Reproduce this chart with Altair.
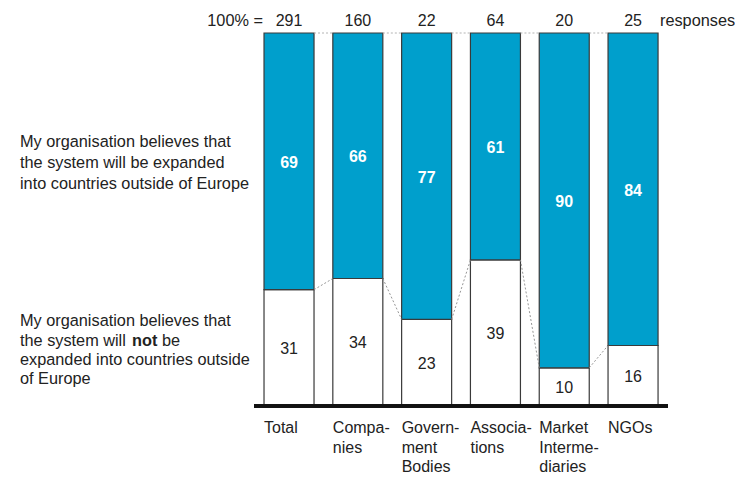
import altair as alt
import pandas as pd

# ---- data ----
categories = ["Total", "Companies", "Government Bodies", "Associations",
              "Market Intermediaries", "NGOs"]
axis_labels = ["Total", "Compa-|nies", "Govern-|ment|Bodies", "Associa-|tions",
               "Market|Interme-|diaries", "NGOs"]
yes_values = [69, 66, 77, 61, 90, 84]   # expanded outside Europe (blue)
no_values = [31, 34, 23, 39, 10, 16]    # not expanded (white)
responses = [291, 160, 22, 64, 20, 25]

BLUE = "#009FCC"
FONT = "Liberation Sans"
TXT = "#222222"
HW = 0.3634  # half bar width in category units

W, H = 414, 372

df = pd.DataFrame({
    "idx": list(range(len(categories))),
    "cat": categories,
    "lab": axis_labels,
    "yes": yes_values,
    "no": no_values,
    "n": responses,
})

conn = pd.DataFrame({
    "i": list(range(len(categories) - 1)),
    "a": no_values[:-1],
    "b": no_values[1:],
})

xs = alt.Scale(domain=[-0.509, 5.508], nice=False, zero=False)
ys = alt.Scale(domain=[0, 100], nice=False, zero=False)

base = alt.Chart(df).transform_calculate(
    x0=f"datum.idx - {HW}", x1=f"datum.idx + {HW}",
    top="datum.no + datum.yes", midyes="datum.no + datum.yes / 2",
    midno="datum.no / 2", lines="split(datum.lab, '|')"
)

white_bars = base.mark_rect(fill="white", stroke="#3a3a3a", strokeWidth=1.2).encode(
    x=alt.X("x0:Q", scale=xs, axis=None), x2="x1:Q",
    y=alt.Y("no:Q", scale=ys, axis=None), y2=alt.datum(0),
)
blue_bars = base.mark_rect(fill=BLUE, stroke="#3a3a3a", strokeWidth=1.2).encode(
    x=alt.X("x0:Q", scale=xs, axis=None), x2="x1:Q",
    y=alt.Y("no:Q", scale=ys, axis=None), y2="top:Q",
)

yes_text = base.mark_text(font=FONT, fontSize=16, fontWeight="bold", color="white", dy=1.5).encode(
    x=alt.X("idx:Q", scale=xs), y=alt.Y("midyes:Q", scale=ys), text="yes:Q"
)
no_text = base.mark_text(font=FONT, fontSize=16, color=TXT, dy=1.5).encode(
    x=alt.X("idx:Q", scale=xs), y=alt.Y("midno:Q", scale=ys), text="no:Q"
)
n_text = base.mark_text(font=FONT, fontSize=16, color=TXT, baseline="middle").encode(
    x=alt.X("idx:Q", scale=xs), y=alt.value(-12), text="n:Q"
)
cat_text = base.mark_text(font=FONT, fontSize=16, color=TXT, align="left",
                          baseline="top", lineHeight=19.5).encode(
    x=alt.X("x0:Q", scale=xs), y=alt.value(H + 15), text="lines:N"
)

cbase = alt.Chart(conn).transform_calculate(
    cx0=f"datum.i + {HW}", cx1=f"datum.i + 1 - {HW}", full="100"
)
diag = cbase.mark_rule(color="#8a8a8a", strokeWidth=0.9, strokeDash=[2, 2]).encode(
    x=alt.X("cx0:Q", scale=xs), x2="cx1:Q",
    y=alt.Y("a:Q", scale=ys), y2="b:Q",
)
topline = cbase.mark_rule(color="#aaaaaa", strokeWidth=0.9, strokeDash=[2, 2]).encode(
    x=alt.X("cx0:Q", scale=xs), x2="cx1:Q",
    y=alt.Y("full:Q", scale=ys), y2="full:Q",
)

baseline = alt.Chart(df).mark_rule(color="#111111", strokeWidth=3).encode(
    x=alt.value(0), x2=alt.value(W), y=alt.value(H + 1)
)

ann = pd.DataFrame({"t": [0]})
def txt(s, x, y, weight="normal", align="left"):
    return alt.Chart(ann).mark_text(font=FONT, fontSize=16.3, color=TXT, align=align,
                                    baseline="middle", fontWeight=weight).encode(
        x=alt.value(x), y=alt.value(y), text=alt.value(s))

L = -234
left = [
    txt("My organisation believes that", L, 109),
    txt("the system will be expanded", L, 130),
    txt("into countries outside of Europe", L, 151),
    txt("My organisation believes that", L, 288),
    txt("the system will", L, 308),
    txt("not", L + 112, 308, weight="bold"),
    txt("be", L + 142, 308),
    txt("expanded into countries outside", L, 327),
    txt("of Europe", L, 346),
]
top_left = txt("100% =", 9, -12, align="right")
top_right = txt("responses", 406, -12)

chart = alt.layer(
    white_bars, blue_bars, diag, topline, baseline,
    yes_text, no_text, n_text, cat_text, *left, top_left, top_right
).properties(
    width=W, height=H,
    background="white",
    autosize=alt.AutoSizeParams(type="none"),
    padding={"left": 254, "top": 33, "right": 67, "bottom": 72},
).configure_view(stroke=None)

chart.save("out.html", embed_options={"renderer": "svg", "actions": False})
